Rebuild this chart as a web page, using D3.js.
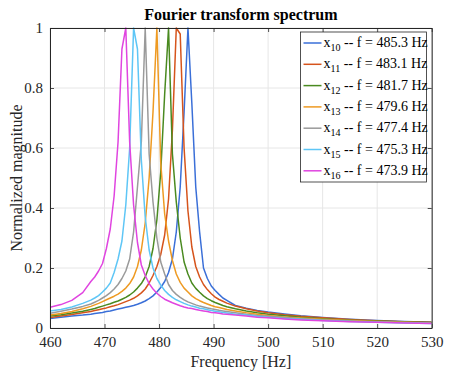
<!DOCTYPE html>
<html><head><meta charset="utf-8">
<script src="https://cdn.jsdelivr.net/npm/d3@7"></script>
<style>body{margin:0;background:#fff}svg{display:block}</style>
</head><body>
<script>
// Frequency samples [Hz]
const freqs = [460, 462, 464, 466, 467.49, 468.20, 468.91, 469.63, 470.34, 471.05, 471.76, 472.48, 473.19, 473.90, 474.61, 475.33, 476.04, 476.75, 477.46, 478.18, 478.89, 479.60, 480.31, 481.03, 481.74, 482.45, 483.16, 483.88, 484.59, 485.30, 486.01, 486.73, 487.44, 488.15, 488.86, 489.58, 490.29, 491.00, 491.71, 492.43, 494, 496, 498, 500, 503, 506, 510, 515, 520, 525, 530];

const x10 = [.032,.036,.040,.043,.046,.048,.050,.052,.055,.057,.060,.063,.066,.069,.072,.075,.079,.084,.090,.098,.107,.120,.135,.155,.185,.230,.320,.470,.720,1.0,.750,.470,.320,.200,.165,.140,.125,.112,.100,.092,.075,.066,.058,.053,.047,.041,.035,.029,.025,.022,.019];
const x11 = [.035,.040,.045,.051,.055,.058,.061,.064,.067,.071,.074,.078,.083,.088,.093,.099,.107,.117,.130,.150,.175,.205,.245,.310,.430,.660,1.0,.980,.600,.390,.270,.205,.170,.145,.128,.114,.103,.095,.089,.083,.073,.064,.057,.051,.044,.039,.034,.028,.024,.021,.019];
const x12 = [.040,.044,.050,.056,.062,.065,.069,.073,.077,.081,.086,.090,.096,.102,.110,.120,.133,.148,.170,.205,.265,.360,.520,.780,1.0,.580,.420,.300,.220,.180,.150,.132,.119,.107,.098,.091,.085,.080,.075,.071,.064,.057,.051,.046,.041,.036,.031,.026,.023,.020,.018];
const x13 = [.043,.048,.055,.064,.072,.077,.082,.088,.094,.100,.106,.113,.122,.133,.148,.170,.205,.260,.350,.500,.720,1.0,.550,.380,.290,.225,.180,.152,.133,.120,.107,.098,.091,.085,.080,.075,.071,.068,.065,.062,.057,.051,.046,.042,.037,.033,.029,.025,.022,.019,.017];
const x14 = [.049,.056,.063,.072,.080,.086,.092,.100,.108,.118,.130,.145,.165,.190,.230,.320,.470,.620,1.0,.580,.420,.300,.220,.180,.145,.125,.112,.102,.094,.087,.082,.077,.073,.070,.067,.064,.062,.059,.057,.055,.051,.046,.042,.039,.035,.031,.027,.023,.020,.018,.016];
const x15 = [.057,.062,.070,.082,.093,.100,.108,.120,.133,.150,.185,.230,.290,.410,.600,1.0,.930,.560,.370,.260,.200,.165,.143,.125,.112,.102,.094,.088,.082,.077,.073,.070,.066,.064,.061,.058,.056,.054,.052,.050,.046,.043,.039,.036,.032,.029,.025,.022,.019,.017,.015];
const x16 = [.069,.078,.092,.118,.155,.170,.190,.215,.265,.330,.440,.620,.930,1.0,.620,.410,.285,.210,.175,.148,.130,.116,.105,.096,.090,.084,.079,.074,.070,.067,.065,.062,.059,.057,.055,.052,.051,.049,.047,.046,.043,.040,.036,.034,.030,.027,.024,.021,.019,.017,.015];

const seriesNames = ["10","11","12","13","14","15","16"];
const peakLabels = ["485.3","483.1","481.7","479.6","477.4","475.3","473.9"];
const colors = ["#3a6fd8","#d6541c","#4a8a20","#ee9a22","#9a9a9a","#5ec6f6","#e045e0"];
const xTicks = [460,470,480,490,500,510,520,530];
const yTicks = [0,0.2,0.4,0.6,0.8,1];
const yTickLabels = ["0","0.2","0.4","0.6","0.8","1"];

const allSeries = [x10,x11,x12,x13,x14,x15,x16];

const W = 459, H = 380;
const m = {l:50, r:27.3, t:28, b:52};
const svg = d3.select("body").append("svg").attr("width",W).attr("height",H)
  .style("font-family","'Liberation Serif','Times New Roman',serif");

const xs = d3.scaleLinear().domain([460,530]).range([m.l, W-m.r]);
const ys = d3.scaleLinear().domain([0,1]).range([H-m.b, m.t]);
const axc = "#262626";

// grid
const g = svg.append("g");
g.selectAll("line.gx").data(xTicks).join("line")
  .attr("x1",d=>xs(d)).attr("x2",d=>xs(d)).attr("y1",ys(0)).attr("y2",ys(1))
  .attr("stroke","#e6e6e6").attr("stroke-width",1);
g.selectAll("line.gy").data(yTicks).join("line")
  .attr("y1",d=>ys(d)).attr("y2",d=>ys(d)).attr("x1",xs(460)).attr("x2",xs(530))
  .attr("stroke","#e6e6e6").attr("stroke-width",1);

// clip
svg.append("clipPath").attr("id","clip").append("rect")
  .attr("x",xs(460)).attr("y",ys(1)-2).attr("width",xs(530)-xs(460)).attr("height",ys(0)-ys(1)+2);

const line = d3.line().x((d,i)=>xs(freqs[i])).y(d=>ys(d));
svg.append("g").attr("clip-path","url(#clip)").selectAll("path").data(allSeries).join("path")
  .attr("d",d=>line(d)).attr("fill","none")
  .attr("stroke",(d,i)=>colors[i]).attr("stroke-width",1.5).attr("stroke-linejoin","round");

// axes
const fs = 15;
const xAxisB = d3.axisBottom(xs).tickValues(xTicks).tickSize(-4).tickSizeOuter(0).tickPadding(8).tickFormat(d3.format("d"));
const xAxisT = d3.axisTop(xs).tickValues(xTicks).tickSize(-4).tickSizeOuter(0).tickFormat("");
const yAxisL = d3.axisLeft(ys).tickValues(yTicks).tickSize(-4).tickSizeOuter(0).tickPadding(7).tickFormat((d,i)=>yTickLabels[i]);
const yAxisR = d3.axisRight(ys).tickValues(yTicks).tickSize(-4).tickSizeOuter(0).tickFormat("");

function style(sel){
  sel.attr("font-family",null);
  sel.selectAll("path.domain").attr("stroke",axc).attr("stroke-width",1);
  sel.selectAll(".tick line").attr("stroke",axc).attr("stroke-width",0.8);
  sel.selectAll(".tick text").attr("fill",axc).style("font-size",fs+"px").style("font-family","'Liberation Serif',serif");
}
svg.append("g").attr("transform",`translate(0,${ys(0)})`).call(xAxisB).call(style);
svg.append("g").attr("transform",`translate(0,${ys(1)})`).call(xAxisT).call(style);
svg.append("g").attr("transform",`translate(${xs(460)},0)`).call(yAxisL).call(style);
svg.append("g").attr("transform",`translate(${xs(530)},0)`).call(yAxisR).call(style);

// labels
svg.append("text").attr("x",(xs(460)+xs(530))/2).attr("y",20).attr("text-anchor","middle")
  .style("font-size","16px").style("font-weight","bold").attr("fill","#000").text("Fourier transform spectrum");
svg.append("text").attr("x",(xs(460)+xs(530))/2).attr("y",367).attr("text-anchor","middle")
  .style("font-size","16px").attr("fill",axc).text("Frequency [Hz]");
svg.append("text").attr("transform",`translate(22,${(ys(0)+ys(1))/2}) rotate(-90)`).attr("text-anchor","middle")
  .style("font-size","16px").attr("fill",axc).text("Normalized magnitude");

// legend
const lg = svg.append("g");
const lx = 300.5, ly = 32, lw = 126, lh = 150, rowH = 21.3;
lg.append("rect").attr("x",lx).attr("y",ly).attr("width",lw).attr("height",lh)
  .attr("fill","#fff").attr("stroke",axc).attr("stroke-width",0.8);
seriesNames.forEach((s,i)=>{
  const cy = ly + 11 + i*rowH;
  lg.append("line").attr("x1",lx+3).attr("x2",lx+21).attr("y1",cy).attr("y2",cy)
    .attr("stroke",colors[i]).attr("stroke-width",1.5);
  const t = lg.append("text").attr("x",lx+23).attr("y",cy+4).style("font-size","14px").attr("fill","#000");
  t.append("tspan").text("x");
  t.append("tspan").attr("dy",4).style("font-size","10px").text(s);
  t.append("tspan").attr("dy",-4).text(" -- f = "+peakLabels[i]+" Hz");
});
</script>
</body></html>
